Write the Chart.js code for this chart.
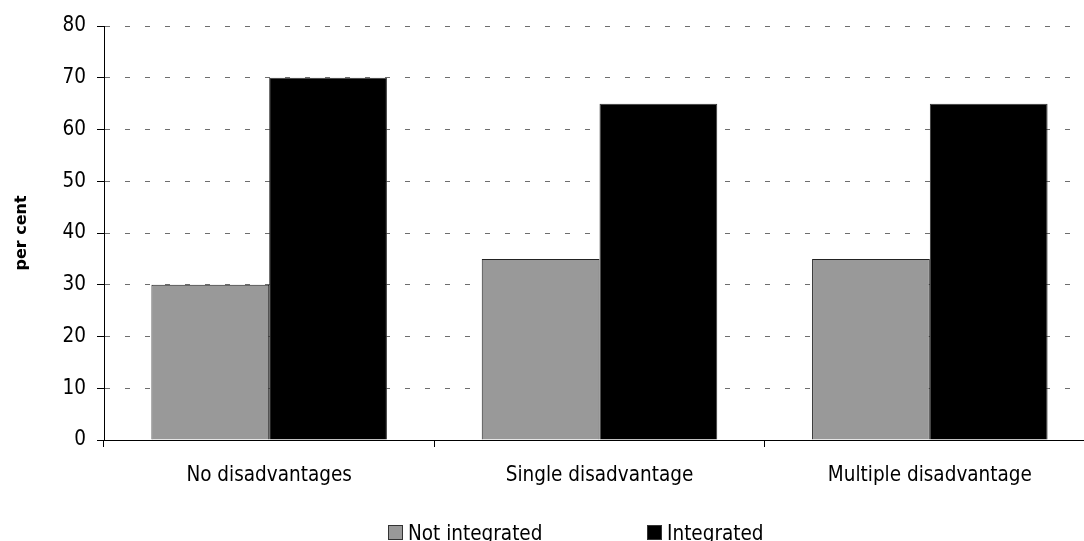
<!DOCTYPE html>
<html>
<head>
<meta charset="utf-8">
<script src="https://cdn.jsdelivr.net/npm/chart.js@4.4.1/dist/chart.umd.min.js"></script>
<style>
  html, body { margin: 0; padding: 0; background: #fff; overflow: hidden; }
  #wrap { position: relative; width: 1100px; height: 541px; }
  #c { display: block; }
  .lg-item { position: absolute; top: 523px; font: 20.5px "DejaVu Sans Condensed", "DejaVu Sans", sans-serif;
             line-height: 20px; color: #000; white-space: nowrap; }
  .lg-box { position: absolute; top: 525px; width: 13px; height: 13px; border: 1px solid #333; box-sizing: content-box; }
</style>
</head>
<body>
<div id="wrap">
  <canvas id="c" width="1100" height="541"></canvas>
  <div id="legend"></div>
</div>
<script>
// Categories and series values
const categories = ['No disadvantages', 'Single disadvantage', 'Multiple disadvantage'];
const notIntegrated = [30, 35, 35];
const integrated = [70, 65, 65];
const seriesNames = ['Not integrated', 'Integrated'];
const seriesColors = ['#999999', '#000000'];
const yMin = 0, yMax = 80, yStep = 10;
const yTitle = 'per cent';

const FONT = '"DejaVu Sans Condensed", "DejaVu Sans", sans-serif';

const chart = new Chart(document.getElementById('c'), {
  type: 'bar',
  data: {
    labels: categories,
    datasets: [
      { label: seriesNames[0], data: notIntegrated, backgroundColor: seriesColors[0],
        borderColor: '#222222', borderWidth: 1 },
      { label: seriesNames[1], data: integrated, backgroundColor: seriesColors[1],
        borderColor: '#333333', borderWidth: 1 }
    ]
  },
  options: {
    responsive: false,
    animation: false,
    devicePixelRatio: 1,
    layout: { padding: { top: 26, right: 5, bottom: 41, left: 0 } },
    datasets: { bar: { categoryPercentage: 0.713, barPercentage: 1.0 } },
    plugins: {
      legend: { display: false },
      tooltip: { enabled: false }
    },
    scales: {
      x: {
        grid: { offset: true, drawOnChartArea: false, tickLength: 7, tickColor: '#000', color: '#000' },
        border: { color: '#000', width: 1 },
        ticks: { color: '#000', font: { family: FONT, size: 20.5 }, padding: 16, maxRotation: 0 },
        afterFit: (s) => { s.height = 60; }
      },
      y: {
        min: yMin, max: yMax,
        grid: {
          color: (ctx) => (ctx.tick && ctx.tick.value === 0) ? 'rgba(0,0,0,0)' : '#6e6e6e',
          tickColor: '#000', tickLength: 7, tickBorderDash: []
        },
        border: { color: '#000', width: 1, dash: [5, 15] },
        ticks: { stepSize: yStep, color: '#000', font: { family: FONT, size: 20.5 }, padding: 11 },
        title: { display: true, text: yTitle, color: '#000',
                 font: { family: '"DejaVu Sans", sans-serif', size: 16, weight: 'bold' },
                 padding: { top: 12, bottom: 0 } },
        afterFit: (s) => { s.width = 104; }
      }
    }
  }
});

// Legend below the chart, built from the datasets
const legendLeft = [388, 647];
const legend = document.getElementById('legend');
chart.data.datasets.forEach((ds, i) => {
  const box = document.createElement('div');
  box.className = 'lg-box';
  box.style.left = legendLeft[i] + 'px';
  box.style.background = ds.backgroundColor;
  legend.appendChild(box);
  const txt = document.createElement('div');
  txt.className = 'lg-item';
  txt.style.left = (legendLeft[i] + 20) + 'px';
  txt.textContent = ds.label;
  legend.appendChild(txt);
});
</script>
</body>
</html>
